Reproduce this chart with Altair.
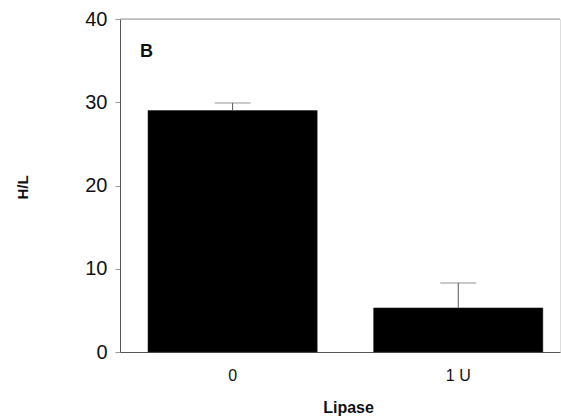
import altair as alt
import pandas as pd

categories = ["0", "1 U"]
values = [29.0, 5.3]
upper = [29.9, 8.3]

df = pd.DataFrame({"cat": categories, "val": values, "upper": upper})

FONT = "Liberation Sans"

xscale = alt.Scale(domain=categories, paddingInner=0.25, paddingOuter=0.1, align=0.62)
yscale = alt.Scale(domain=[0, 40], nice=False, zero=True)

base = alt.Chart(df)

bars = base.mark_bar(color="black", stroke="#222", strokeWidth=0.5).encode(
    x=alt.X("cat:N", scale=xscale, sort=categories,
            axis=alt.Axis(title="Lipase", labelAngle=0, ticks=False, tickSize=0,
                          labelFontSize=16, labelFont=FONT, labelColor="#111",
                          labelPadding=15, domainColor="#555", domainWidth=1,
                          titleFont=FONT, titleFontSize=16, titleFontWeight="bold",
                          titleColor="#111", titleBaseline="alphabetic",
                          titleY=60, titleX=228)),
    y=alt.Y("val:Q", scale=yscale,
            axis=alt.Axis(title="H/L", values=[0, 10, 20, 30, 40], grid=False,
                          tickSize=5, tickColor="#999", domainColor="#555",
                          labelFontSize=20, labelFont=FONT, labelColor="#111",
                          labelPadding=8,
                          titleFont=FONT, titleFontSize=15, titleFontWeight="bold",
                          titleColor="#111", titleX=-90, titleY=168)),
)

err = base.mark_rule(color="#555", strokeWidth=1).encode(
    x=alt.X("cat:N", scale=xscale, sort=categories),
    y=alt.Y("val:Q", scale=yscale),
    y2="upper:Q",
)

caps = base.mark_tick(color="#666", thickness=1, size=36, strokeDash=[3, 1]).encode(
    x=alt.X("cat:N", scale=xscale, sort=categories),
    y=alt.Y("upper:Q", scale=yscale),
)

top_line = alt.Chart(pd.DataFrame({"t": [40]})).mark_rule(color="#999", strokeWidth=1).encode(
    y=alt.Y("t:Q", scale=yscale),
    x=alt.value(0), x2=alt.value(440),
)

label_b = alt.Chart(pd.DataFrame({"lab": ["B"]})).mark_text(
    align="left", baseline="alphabetic", font=FONT, fontSize=18, fontWeight="bold", color="#111"
).encode(text="lab:N", x=alt.value(20), y=alt.value(38))

chart = alt.layer(top_line, bars, err, caps, label_b).properties(
    width=440, height=333,
    autosize=alt.AutoSizeParams(type="none"),
    padding={"left": 120, "top": 19, "right": 1, "bottom": 64},
).configure_view(stroke=None).configure(background="white")

chart.save("out.html", embed_options={"renderer": "svg", "actions": False})
